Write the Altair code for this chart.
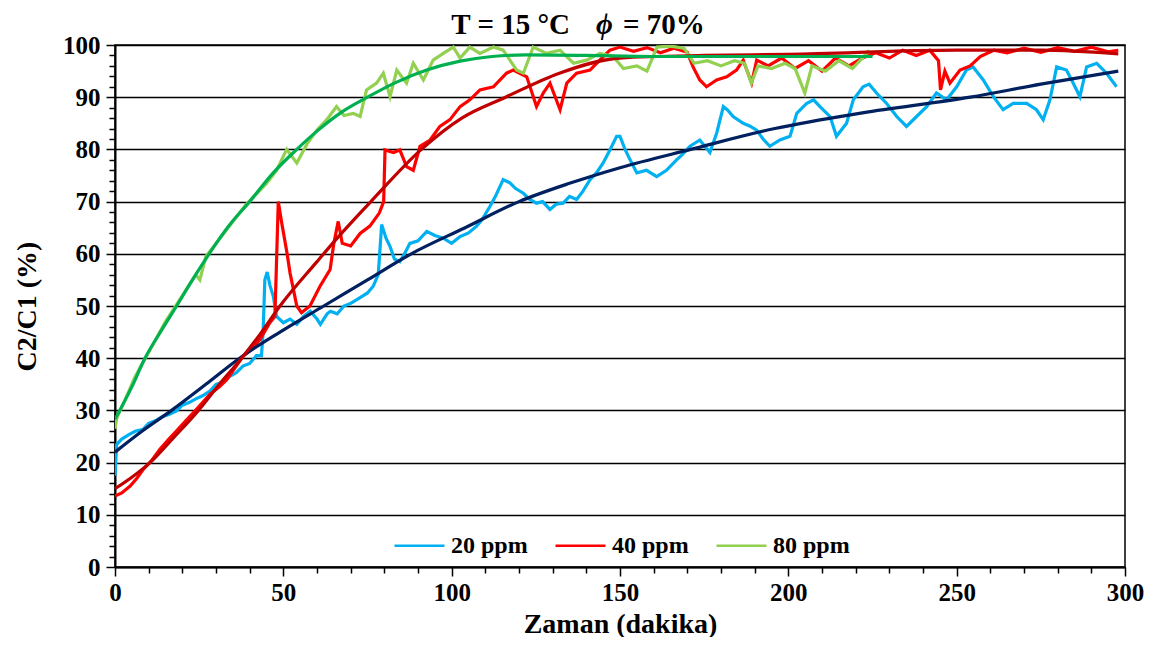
import altair as alt
import pandas as pd

FONT = "Liberation Serif"

# ---------------- data ----------------
series_names = ["20 ppm", "40 ppm", "80 ppm"]
series_colors = ["#00B0F0", "#FF0000", "#92D050"]
fit_names = ["fit 20 ppm", "fit 40 ppm", "fit 80 ppm"]
fit_colors = ["#002060", "#C00000", "#00B050"]

t20 = [0, 0.5, 2, 4, 6, 8.4, 10, 12, 14, 16, 18.3, 20, 22, 24, 26, 28.2, 30, 32, 34, 36, 38, 40, 42, 43.5,
       44, 44.5, 45.2, 46, 47, 48, 50, 52, 54, 56, 58, 60, 61, 63, 64, 66, 68, 70, 72.8, 75, 76.7, 78.2,
       79.2, 80.5, 81.7, 83, 84.6, 86, 87.6, 90, 92.6, 95, 97.5, 100, 102.5, 105, 107.4, 109, 111.4, 113,
       115.3, 117.3, 119, 121.3, 123, 125.2, 127, 129.2, 131, 133.1, 135, 137.1, 139, 141.1, 143, 145, 147,
       149, 150, 151.5, 153, 155, 157.9, 160.9, 163.8, 166.8, 168.5, 170.8, 173.7, 176.7, 178.7, 180.7, 182,
       183.6, 186.6, 188.5, 190.6, 192.5, 194.5, 197.5, 200.5, 202.5, 205.4, 207.5, 209.4, 212.4, 214.3,
       217.3, 219.3, 222.2, 224, 226.2, 229.2, 232.2, 235.1, 238.1, 241.1, 244, 247, 250, 252.9, 254.9,
       257.9, 260.9, 263.8, 266.8, 270.8, 273.7, 275.7, 277.7, 279.7, 282.6, 284.6, 286.6, 288.6, 291.6,
       294.5, 297.5]
v20 = [17.5, 23.5, 24.5, 25.3, 26.0, 26.4, 27.5, 28.0, 28.8, 29.2, 29.9, 31.0, 31.5, 32.2, 32.8, 33.7, 35.0,
       35.4, 36.5, 37.2, 38.5, 39.0, 40.5, 40.5, 45, 55, 56.5, 54, 51.9, 48, 46.8, 47.5, 46.5, 48, 49, 47.5,
       46.5, 48.5, 49, 48.5, 50, 50.5, 51.6, 52.5, 53.8, 56, 65.6, 63, 61.4, 59, 58.5, 60, 62, 62.5, 64.3,
       63.5, 63, 62, 63.3, 64, 65.3, 66.5, 69.1, 71, 74.2, 73.6, 72.5, 71.6, 70.5, 69.7, 70, 68.5, 69.5,
       69.7, 71, 70.4, 72, 74.2, 75.5, 77.4, 79.9, 82.5, 82.5, 80, 78, 75.5, 76, 74.8, 76, 78, 79, 80.6,
       81.8, 79.4, 83.1, 88.2, 87.5, 86.3, 85, 84.5, 83.7, 82, 80.6, 81.8, 82.5, 86.9, 88.8, 89.5, 88.2,
       86.3, 82.5, 85, 89.5, 92, 92.5, 90.8, 88.8, 86.3, 84.4, 86.3, 88.2, 90.8, 89.5, 92, 95.2, 95.8, 93.3,
       90.1, 87.6, 88.8, 88.8, 87.6, 85.7, 89.5, 95.8, 95.2, 92.7, 90.1, 95.8, 96.5, 94.6, 92]

t40 = [0, 2, 4.5, 6.5, 8.4, 11, 13.4, 16, 18.3, 21, 23.3, 26, 28.2, 31, 33.2, 36, 38.1, 41, 43.1, 46, 47.5,
       48.5, 49.5, 51, 52, 54, 55.4, 57.9, 60.9, 63.9, 65, 66.3, 67.5, 70, 72.8, 75.7, 78.5, 79.8, 80.2,
       82.7, 84.6, 86.6, 88.6, 90.6, 93.6, 96.5, 99.5, 102.5, 105.4, 108.4, 112.4, 116.3, 118.3, 122.3,
       125.2, 127.2, 129.2, 132.2, 134.2, 137.1, 141.1, 144, 147, 150, 154, 158, 162, 166, 170, 171.7,
       173.7, 175.7, 178.7, 181.7, 184.6, 186.6, 189.1, 190.6, 194, 198, 202, 206, 210, 214, 218, 222, 226,
       230, 234, 238, 242, 244.6, 245.2, 246.5, 248, 251, 254, 257, 261, 265, 270, 275, 280, 285, 290,
       295, 298]
v40 = [13.6, 14.2, 15.5, 17, 18.7, 20.5, 22.6, 24.5, 26.1, 28, 29.6, 31.5, 33.1, 34.5, 35.9, 38.5, 40.4, 42,
       43.6, 46.8, 48, 70, 66, 60.5, 56.3, 50, 48.7, 50, 53.8, 57, 62, 66.2, 62, 61.5, 63.9, 65.3, 67.8, 70,
       79.9, 79.4, 79.9, 76.7, 76, 80.6, 81.8, 84.4, 85.7, 88.2, 89.5, 91.4, 92, 94.6, 95.2, 93.9, 88.2,
       90.8, 92.7, 87.6, 92.7, 94.6, 95.2, 97.1, 99, 99.6, 98.8, 99.5, 98.5, 99.4, 98.6, 95.8, 93.3, 92,
       93.3, 93.9, 95.2, 97.1, 92.7, 97.1, 96, 97.5, 95.5, 97, 95, 97.5, 96, 97.5, 98.5, 97.5, 99, 98, 99,
       97, 91.4, 95, 92.7, 95.2, 96, 97.8, 99, 98.5, 99.4, 98.6, 99.5, 98.8, 99.6, 98.7, 99]

t80 = [0, 0.5, 3, 6, 9, 12, 15, 18, 21, 24, 25.2, 27, 30, 33, 36, 39, 42, 45, 48, 51, 54, 57, 60, 62.9, 65.8,
       68, 70.8, 72.8, 74.7, 77.7, 79.7, 81.7, 83.7, 86.6, 88.6, 91.6, 94.5, 97.5, 100.5, 102.5, 105.4,
       108.4, 112.4, 115.3, 119.3, 121.3, 124.2, 128.2, 132.2, 136.2, 140.1, 144, 148, 151, 155, 158, 161,
       165, 169, 172, 176, 180, 184, 187, 189, 191, 195, 199, 202, 204.9, 207, 211, 215, 219, 222, 224]
v80 = [26.5, 28.5, 32, 36.5, 40, 43.5, 47, 50, 53, 56, 55, 59.5, 62, 64.5, 67, 69.5, 71.5, 73.5, 76, 80,
       77.4, 81, 83.7, 85.7, 88.2, 86.5, 86.9, 86.3, 91.4, 92.7, 94.6, 90.1, 95.2, 92.7, 96.5, 93.3, 97.1,
       98.4, 99.6, 97.5, 99.6, 98.4, 99.6, 99, 95.2, 94.6, 99.6, 98.4, 99, 96.5, 97.1, 98.4, 97.8, 95.5, 96,
       95, 99.6, 99.8, 99.4, 96.5, 97, 96, 97, 96.5, 92.7, 96, 95.5, 96.5, 95.5, 90.8, 96, 95, 97, 95.5,
       97.5, 99]

# fitted curves (read at selected points)
ft20 = [0, 8, 16.8, 27, 37, 49, 62, 75, 88, 104, 120, 135, 150, 171, 196, 222, 254, 275, 298]
fv20 = [22, 26, 30, 35, 40, 45, 50, 55, 60, 65, 70, 73.5, 76.5, 80, 84, 87, 90, 92.5, 95]
ft40 = [0, 5, 10.4, 17, 24.8, 31, 37.6, 43, 49, 60, 66, 76, 91, 103, 116, 132, 150, 175, 200, 250, 275, 298]
fv40 = [15, 17.2, 20, 24.5, 30, 35, 40, 44.5, 50, 58.5, 63, 70, 80, 86, 90, 94.6, 97.5, 98, 98.2, 99, 99, 98.3]
ft80 = [0, 5, 8.9, 13, 18.3, 23, 28.5, 34, 40, 47, 54, 60, 67, 75, 83, 92.6, 102.5, 112, 122, 140, 160, 190, 225]
fv80 = [28.3, 34.5, 40, 44.5, 50, 55, 60.5, 65.5, 70, 75.5, 80, 83.5, 87, 90, 92.7, 95.2, 96.9, 97.8, 98.1,
        98.0, 97.8, 97.8, 97.8]

x_tick_values = list(range(0, 301, 10))
y_tick_values = list(range(0, 101, 2))

title_left = "T = 15 °C"
title_phi = "ϕ"
title_right = "= 70%"
x_title = "Zaman (dakika)"
y_title = "C2/C1 (%)"


def frame(ts, vs, name):
    return pd.DataFrame({"t": ts, "v": vs, "series": name, "order": range(len(ts))})


noisy = pd.concat([frame(t20, v20, series_names[0]),
                   frame(t40, v40, series_names[1]),
                   frame(t80, v80, series_names[2])])
fits = pd.concat([frame(ft20, fv20, fit_names[0]),
                  frame(ft40, fv40, fit_names[1]),
                  frame(ft80, fv80, fit_names[2])])

W, H = 1010, 522

x_scale = alt.Scale(domain=[0, 300], nice=False, zero=False)
y_scale = alt.Scale(domain=[0, 100], nice=False, zero=False)

common_axis = dict(
    labelFont=FONT, labelFontSize=25, labelFontWeight="bold", labelColor="black",
    labelOverlap=False,
    titleFont=FONT, titleFontSize=28, titleFontWeight="bold", titleColor="black",
    domainColor="black", domainWidth=2, tickColor="black", tickWidth=1.5,
)

x_axis = alt.Axis(
    values=x_tick_values, tickCount=len(x_tick_values) + 5,
    labelExpr="datum.value % 50 === 0 ? datum.label : ''",
    tickSize={"condition": {"test": "datum.value % 50 === 0", "value": 9}, "value": 6},
    grid=False, title=x_title, titleY=57, titleBaseline="middle",
    labelPadding=4, labelFlush=False,
    **common_axis,
)
y_axis = alt.Axis(
    values=y_tick_values, tickCount=len(y_tick_values) + 5,
    labelExpr="datum.value % 10 === 0 ? datum.label : ''",
    tickSize={"condition": {"test": "datum.value % 10 === 0", "value": 9}, "value": 6},
    grid=True, gridColor="black", gridWidth=1.5,
    gridOpacity={"condition": {"test": "datum.value % 10 === 0", "value": 1}, "value": 0},
    title=y_title, titleX=-88, titleY=H / 2, titleAngle=270, titleAlign="center", titleBaseline="middle",
    labelPadding=6,
    **common_axis,
)

noisy_layer = alt.Chart(noisy).mark_line(strokeWidth=3.2, clip=True).encode(
    x=alt.X("t:Q", scale=x_scale, axis=x_axis),
    y=alt.Y("v:Q", scale=y_scale, axis=y_axis),
    color=alt.Color("series:N", scale=alt.Scale(domain=series_names, range=series_colors),
                    legend=alt.Legend(
                        title=None, orient="none", legendX=278, legendY=474, direction="horizontal",
                        symbolType="stroke", symbolSize=2500, symbolStrokeWidth=2.5,
                        labelFont=FONT, labelFontSize=24, labelFontWeight="bold", labelColor="black",
                        labelOffset=5, columnPadding=22, padding=0)),
    order="order:Q",
)

fit_layer = alt.Chart(fits).mark_line(strokeWidth=3.2, interpolate="monotone", clip=True).encode(
    x=alt.X("t:Q", scale=x_scale, axis=x_axis),
    y=alt.Y("v:Q", scale=y_scale, axis=y_axis),
    color=alt.Color("series:N", scale=alt.Scale(domain=fit_names, range=fit_colors), legend=None),
    order="order:Q",
)

title_style = dict(font=FONT, fontSize=29, fontWeight="bold", color="black", baseline="alphabetic")
t1 = alt.Chart(pd.DataFrame({"txt": [title_left]})).mark_text(align="right", **title_style).encode(
    text="txt:N", x=alt.value(455), y=alt.value(-11))
t2 = alt.Chart(pd.DataFrame({"txt": [title_phi]})).mark_text(align="left", fontStyle="italic", **title_style).encode(
    text="txt:N", x=alt.value(481), y=alt.value(-11))
t3 = alt.Chart(pd.DataFrame({"txt": [title_right]})).mark_text(align="left", **title_style).encode(
    text="txt:N", x=alt.value(508), y=alt.value(-11))

chart = alt.layer(noisy_layer, fit_layer, t1, t2, t3).resolve_scale(color="independent").properties(
    width=W, height=H,
    autosize=alt.AutoSizeParams(type="none"),
    padding={"left": 107, "top": 37, "right": 19, "bottom": 70},
    background="white",
).configure_view(stroke="black", strokeWidth=1.5)

chart.save("out.html", embed_options={"renderer": "svg", "actions": False})
